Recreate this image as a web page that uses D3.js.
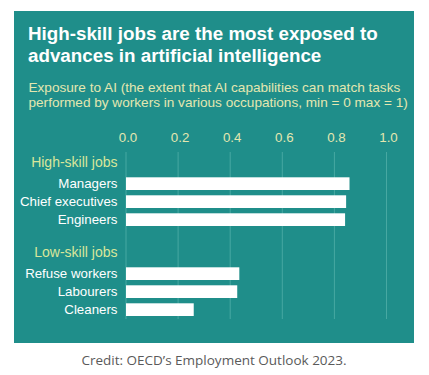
<!DOCTYPE html>
<html>
<head>
<meta charset="utf-8">
<script src="https://cdn.jsdelivr.net/npm/d3@7"></script>
<style>
  body { margin: 0; background: #ffffff; }
</style>
</head>
<body>
<div id="chart"></div>
<script>
// Chart data
const groups = ["High-skill jobs", "Low-skill jobs"];
const highJobs = ["Managers", "Chief executives", "Engineers"];
const highValues = [0.858, 0.845, 0.841];
const lowJobs = ["Refuse workers", "Labourers", "Cleaners"];
const lowValues = [0.435, 0.427, 0.26];
const ticks = [0, 0.2, 0.4, 0.6, 0.8, 1.0];

const W = 429, H = 375;
const font = "'Liberation Sans', Arial, sans-serif";
const bg = "#1f8e8a";
const cream = "#e4e7b0";

const svg = d3.select("#chart")
    .append("svg")
        .attr("width", W)
        .attr("height", H);

// Teal panel
svg.append("rect")
    .attr("x", 14).attr("y", 11)
    .attr("width", 400).attr("height", 332)
    .attr("fill", bg);

// Title
const title = ["High-skill jobs are the most exposed to", "advances in artificial intelligence"];
svg.append("g").selectAll("text")
    .data(title)
    .enter()
    .append("text")
    .attr("x", 28)
    .attr("y", (d, i) => 39.5 + i * 22.5)
    .attr("font-family", font)
    .style("font-size", "18.8px")
    .style("font-weight", "bold")
    .attr("fill", "#ffffff")
    .text(d => d);

// Subtitle
const subtitle = ["Exposure to AI (the extent that AI capabilities can match tasks",
                  "performed by workers in various occupations, min = 0 max = 1)"];
svg.append("g").selectAll("text")
    .data(subtitle)
    .enter()
    .append("text")
    .attr("x", 28.5)
    .attr("y", (d, i) => 92 + i * 15)
    .attr("font-family", font)
    .style("font-size", "13.6px")
    .attr("fill", cream)
    .text(d => d);

// X scale
const x = d3.scaleLinear().domain([0, 1]).range([126, 386.5]);

// Gridlines
svg.append("g").selectAll("line")
    .data(ticks)
    .enter()
    .append("line")
    .attr("x1", d => x(d)).attr("x2", d => x(d))
    .attr("y1", 152).attr("y2", 319)
    .attr("stroke", "#47a8a2")
    .attr("stroke-width", 1);

// Top axis labels
const xAxis = svg.append("g")
    .attr("transform", "translate(0,142)")
    .call(d3.axisTop(x).tickValues(ticks).tickFormat(d3.format(".1f")).tickSize(0).tickPadding(0));
xAxis.select(".domain").remove();
xAxis.selectAll("text")
    .attr("font-family", font)
    .style("font-size", "13.3px")
    .attr("fill", cream)
    .attr("dx", 1.5);

// Y bands per group
const groupTop = [177.3, 267.3];
const step = 18;
const bandH = 12.7;
const groupData = [
    { name: groups[0], jobs: highJobs, values: highValues },
    { name: groups[1], jobs: lowJobs, values: lowValues }
];

groupData.forEach(function(g, gi) {
    const y = d3.scaleBand()
        .domain(g.jobs)
        .range([groupTop[gi], groupTop[gi] + step * (g.jobs.length - 1) + bandH])
        .paddingInner(1 - bandH / step)
        .paddingOuter(0);
    const gg = svg.append("g");

    // Group header
    gg.append("text")
        .attr("x", 117.5)
        .attr("y", groupTop[gi] - 10.3)
        .attr("text-anchor", "end")
        .attr("font-family", font)
        .style("font-size", "14px")
        .attr("fill", "#d9e69a")
        .text(g.name);

    // Bars
    gg.selectAll("rect")
        .data(g.values)
        .enter()
        .append("rect")
        .attr("x", x(0))
        .attr("y", (d, i) => y(g.jobs[i]))
        .attr("width", d => x(d) - x(0))
        .attr("height", y.bandwidth())
        .attr("fill", "#ffffff");

    // Category labels
    gg.selectAll("text.cat")
        .data(g.jobs)
        .enter()
        .append("text")
        .attr("class", "cat")
        .attr("x", 117.5)
        .attr("y", d => y(d) + y.bandwidth() / 2)
        .attr("dy", "0.35em")
        .attr("text-anchor", "end")
        .attr("font-family", font)
        .style("font-size", "13.3px")
        .attr("fill", "#ffffff")
        .text(d => d);
});

// Credit
svg.append("text")
    .attr("x", 214)
    .attr("y", 365)
    .attr("text-anchor", "middle")
    .attr("font-family", "'Open Sans', sans-serif")
    .style("font-size", "13.5px")
    .attr("fill", "#5a5a5a")
    .text("Credit: OECD\u2019s Employment Outlook 2023.");
</script>
</body>
</html>
